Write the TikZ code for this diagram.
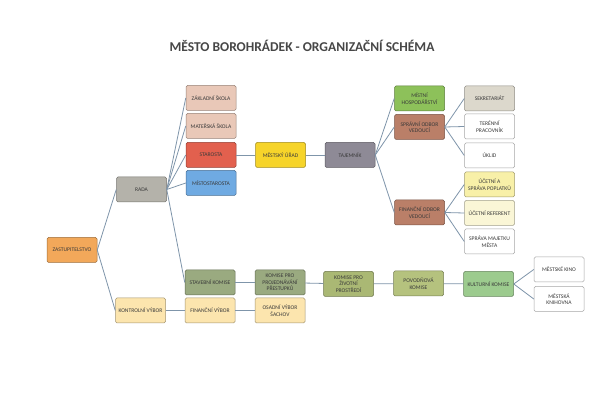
\documentclass[tikz,border=0pt]{standalone}
\usepackage{fontspec}
\setmainfont{Carlito}
\definecolor{linec}{HTML}{7F95AA}
\definecolor{txtc}{HTML}{3A3A3A}
\definecolor{cOrange}{HTML}{F2A85A}
\definecolor{cGray}{HTML}{B4B2AA}
\definecolor{cSchool}{HTML}{E9C8B8}
\definecolor{cRed}{HTML}{E2604E}
\definecolor{cBlue}{HTML}{6FAAE2}
\definecolor{cYellow}{HTML}{F6D42A}
\definecolor{cPurple}{HTML}{8E8A96}
\definecolor{cGreen}{HTML}{8DC15A}
\definecolor{cBrown}{HTML}{BA7F68}
\definecolor{cSek}{HTML}{DCD8CC}
\definecolor{cLY}{HTML}{F8F0A8}
\definecolor{cLLY}{HTML}{FAF6D6}
\definecolor{cStav}{HTML}{9AAA80}
\definecolor{cOlive}{HTML}{AAB874}
\definecolor{cOlive2}{HTML}{B5C27E}
\definecolor{cKul}{HTML}{9CCB8E}
\definecolor{cVyb}{HTML}{FCE5AE}
\tikzset{
  orgbox/.style={draw=#1!65!black, fill=#1, rounded corners=1.5pt, minimum width=50pt,
    minimum height=25pt, inner sep=1pt, align=center, line width=0.5pt,
    text=txtc, font=\fontsize{5.6}{6.4}\selectfont},
  conn/.style={draw=linec, line width=0.8pt}
}
\begin{document}
\begin{tikzpicture}[x=1pt,y=-1pt]
\useasboundingbox (0,0) rectangle (595,403);
\fill[white] (0,0) rectangle (595,403);
\node[font=\bfseries\fontsize{13.5}{15}\selectfont, text=black!72] (title) at (302,46) {MĚSTO BOROHRÁDEK - ORGANIZAČNÍ SCHÉMA};

\node[orgbox=cOrange] (zast) at (72,250) {ZASTUPITELSTVO};
\node[orgbox=cGray] (rada) at (141.5,189.5) {RADA};
\node[orgbox=cSchool] (zs) at (211,98) {ZÁKLADNÍ ŠKOLA};
\node[orgbox=cSchool] (ms) at (211,126) {MATEŘSKÁ ŠKOLA};
\node[orgbox=cRed] (star) at (211,155) {STAROSTA};
\node[orgbox=cBlue] (mist) at (211,183) {MÍSTOSTAROSTA};
\node[orgbox=cYellow] (mu) at (280.5,155) {MĚSTSKÝ ÚŘAD};
\node[orgbox=cPurple] (taj) at (350,155) {TAJEMNÍK};
\node[orgbox=cGreen] (mh) at (419.5,98.5) {MÍSTNÍ\\HOSPODÁŘSTVÍ};
\node[orgbox=cBrown] (so) at (419.5,127) {SPRÁVNÍ ODBOR\\VEDOUCÍ};
\node[orgbox=cBrown] (fo) at (419.5,212.5) {FINANČNÍ ODBOR\\VEDOUCÍ};
\node[orgbox=cSek] (sek) at (489.5,98.5) {SEKRETARIÁT};
\node[orgbox=white] (ter) at (489.5,126.5) {TERÉNNÍ\\PRACOVNÍK};
\node[orgbox=white] (ukl) at (489.5,155.5) {ÚKLID};
\node[orgbox=cLY] (ucs) at (489.5,184.5) {ÚČETNÍ A\\SPRÁVA POPLATKŮ};
\node[orgbox=cLLY] (ucr) at (489.5,213) {ÚČETNÍ REFERENT};
\node[orgbox=white] (spm) at (489.5,241.5) {SPRÁVA MAJETKU\\MĚSTA};
\node[orgbox=cStav] (stk) at (210,282.5) {STAVEBNÍ KOMISE};
\node[orgbox=cStav] (kpp) at (280,282.5) {KOMISE PRO\\PROJEDNÁVÁNÍ\\PŘESTUPKŮ};
\node[orgbox=cOlive] (kzp) at (348.5,284) {KOMISE PRO\\ŽIVOTNÍ\\PROSTŘEDÍ};
\node[orgbox=cOlive2] (pov) at (418.5,283.5) {POVODŇOVÁ\\KOMISE};
\node[orgbox=cKul] (kul) at (488.5,284) {KULTURNÍ KOMISE};
\node[orgbox=white] (kino) at (559,269.5) {MĚSTSKÉ KINO};
\node[orgbox=white] (knih) at (559,299) {MĚSTSKÁ\\KNIHOVNA};
\node[orgbox=cVyb] (kv) at (140.5,310.5) {KONTROLNÍ VÝBOR};
\node[orgbox=cVyb] (fv) at (210,310.5) {FINANČNÍ VÝBOR};
\node[orgbox=cVyb] (ov) at (280,310.5) {OSADNÍ VÝBOR\\ŠACHOV};

\draw[conn] (zast.east) -- (rada.west);
\draw[conn] (zast.east) -- (kv.west);
\foreach \t in {zs,ms,star,mist,stk} \draw[conn] (rada.east) -- (\t.west);
\draw[conn] (star) -- (mu);
\draw[conn] (mu) -- (taj);
\foreach \t in {mh,so,fo} \draw[conn] (taj.east) -- (\t.west);
\foreach \t in {sek,ter,ukl} \draw[conn] (so.east) -- (\t.west);
\foreach \t in {ucs,ucr,spm} \draw[conn] (fo.east) -- (\t.west);
\draw[conn] (stk) -- (kpp);
\draw[conn] (kpp) -- (kzp);
\draw[conn] (kzp) -- (pov);
\draw[conn] (pov) -- (kul);
\draw[conn] (kul.east) -- (kino.west);
\draw[conn] (kul.east) -- (knih.west);
\draw[conn] (kv) -- (fv);
\draw[conn] (fv) -- (ov);
\end{tikzpicture}
\end{document}
